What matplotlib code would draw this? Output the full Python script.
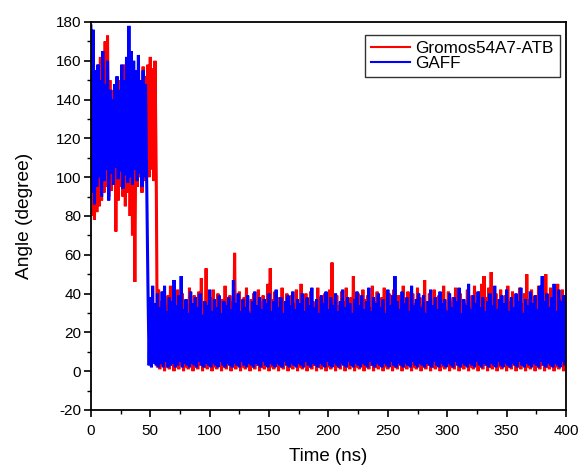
import numpy as np
import matplotlib
matplotlib.use("Agg")
import matplotlib.pyplot as plt
from matplotlib.ticker import MultipleLocator

plt.rcParams['font.family'] = ['Liberation Sans', 'DejaVu Sans']
plt.rcParams['axes.unicode_minus'] = False

# Time (ns), sampled every 1 ns
time_ns = np.arange(0, 401)

# GAFF angle (degree), t = 0..400 ns
gaff = [
    178, 92, 176, 86, 155, 95, 158, 100, 150, 90,
    165, 98, 148, 104, 160, 88, 145, 102, 140, 96,
    148, 105, 152, 99, 145, 103, 158, 94, 150, 101,
    162, 97, 178, 100, 165, 96, 160, 104, 155, 98,
    163, 102, 150, 95, 155, 100, 148, 98,
    45, 3, 38, 2, 44, 4, 35, 3, 40, 2,
    33, 4, 41, 2, 44, 5, 31, 2, 38, 3,
    36, 4, 47, 2, 34, 3, 39, 5, 49, 2,
    32, 4, 37, 3, 30, 2, 41, 4, 35, 3,
    38, 2, 33, 5, 40, 3, 29, 2, 36, 4,
    34, 3, 42, 2, 31, 4, 37, 3, 33, 2,
    39, 5, 30, 3, 36, 2, 34, 4, 38, 3,
    32, 2, 47, 4, 35, 3, 40, 2, 31, 5,
    37, 3, 33, 2, 39, 4, 30, 3, 36, 2,
    41, 4, 34, 3, 38, 2, 32, 5, 37, 3,
    35, 2, 40, 4, 31, 3, 36, 2, 42, 4,
    33, 3, 38, 2, 30, 5, 36, 3, 39, 2,
    34, 4, 41, 3, 32, 2, 37, 4, 35, 3,
    40, 2, 31, 5, 38, 3, 34, 2, 43, 4,
    33, 3, 37, 2, 30, 4, 39, 3, 35, 2,
    41, 5, 32, 3, 38, 2, 34, 4, 40, 3,
    31, 2, 36, 4, 42, 3, 33, 2, 38, 5,
    35, 3, 30, 2, 37, 4, 41, 3, 34, 2,
    39, 4, 32, 3, 36, 2, 43, 5, 31, 3,
    38, 2, 35, 4, 40, 3, 33, 2, 37, 4,
    30, 3, 42, 2, 34, 5, 39, 3, 49, 2,
    36, 4, 32, 3, 41, 2, 35, 4, 38, 3,
    31, 2, 44, 5, 34, 3, 37, 2, 40, 4,
    33, 3, 39, 2, 30, 4, 36, 3, 42, 2,
    34, 5, 38, 3, 32, 2, 41, 4, 35, 3,
    37, 2, 31, 4, 40, 3, 33, 2, 38, 5,
    36, 3, 43, 2, 30, 4, 37, 3, 34, 2,
    45, 4, 32, 3, 39, 2, 35, 5, 41, 3,
    33, 2, 38, 4, 31, 3, 36, 2, 40, 4,
    34, 3, 44, 2, 32, 5, 37, 3, 39, 2,
    35, 4, 42, 3, 31, 2, 38, 4, 33, 3,
    40, 2, 36, 5, 43, 3, 30, 2, 37, 4,
    34, 3, 41, 2, 35, 4, 39, 3, 32, 2,
    44, 5, 49, 3, 36, 2, 40, 4, 33, 3,
    38, 2, 45, 4, 31, 3, 42, 2, 36, 5,
    39, 3, 34,
]

# Gromos54A7-ATB angle (degree), t = 0..400 ns
gromos = [
    120, 80, 140, 78, 150, 82, 158, 85, 162, 88,
    160, 92, 170, 95, 173, 90, 150, 93, 145, 97,
    148, 72, 142, 88, 150, 95, 155, 90, 158, 85,
    152, 92, 160, 80, 148, 70, 135, 46, 140, 95,
    155, 100, 150, 92, 157, 98, 152, 105, 158, 100,
    162, 104, 156, 98, 160, 102,
    2, 42, 1, 36, 3, 41, 0, 34, 2, 39,
    1, 44, 3, 33, 0, 38, 2, 42, 1, 35,
    3, 40, 0, 32, 2, 37, 1, 43, 3, 34,
    0, 39, 2, 31, 1, 41, 3, 48, 0, 36,
    2, 53, 1, 33, 3, 38, 0, 42, 2, 35,
    1, 40, 3, 32, 0, 37, 2, 44, 1, 34,
    3, 39, 0, 36, 2, 61, 1, 33, 3, 41,
    0, 35, 2, 38, 1, 43, 3, 31, 0, 37,
    2, 40, 1, 34, 3, 42, 0, 36, 2, 39,
    1, 33, 3, 45, 0, 53, 2, 37, 1, 41,
    3, 34, 0, 38, 2, 43, 1, 32, 3, 40,
    0, 36, 2, 39, 1, 35, 3, 42, 0, 33,
    2, 45, 1, 37, 3, 40, 0, 34, 2, 41,
    1, 36, 3, 31, 0, 43, 2, 38, 1, 35,
    3, 40, 0, 33, 2, 42, 1, 56, 3, 37,
    0, 39, 2, 34, 1, 41, 3, 36, 0, 43,
    2, 32, 1, 38, 3, 49, 0, 35, 2, 40,
    1, 34, 3, 42, 0, 37, 2, 39, 1, 33,
    3, 44, 0, 36, 2, 41, 1, 35, 3, 38,
    0, 43, 2, 32, 1, 40, 3, 36, 0, 42,
    2, 34, 1, 39, 3, 37, 0, 44, 2, 33,
    1, 41, 3, 36, 0, 40, 2, 35, 1, 43,
    3, 38, 0, 34, 2, 47, 1, 36, 3, 40,
    0, 33, 2, 42, 1, 37, 3, 39, 0, 35,
    2, 44, 1, 32, 3, 41, 0, 36, 2, 38,
    1, 43, 3, 34, 0, 40, 2, 37, 1, 35,
    3, 42, 0, 33, 2, 39, 1, 44, 3, 36,
    0, 41, 2, 45, 1, 49, 3, 38, 0, 43,
    2, 51, 1, 35, 3, 40, 0, 37, 2, 42,
    1, 34, 3, 39, 0, 44, 2, 36, 1, 41,
    3, 33, 0, 38, 2, 43, 1, 35, 3, 40,
    0, 50, 2, 37, 1, 42, 3, 34, 0, 39,
    2, 44, 1, 36, 3, 41, 0, 50, 2, 38,
    1, 43, 3, 35, 0, 40, 2, 45, 1, 37,
    3, 42, 0, 39, 2,
]

series_labels = ["Gromos54A7-ATB", "GAFF"]
x_ticks = [0, 50, 100, 150, 200, 250, 300, 350, 400]
y_ticks = [-20, 0, 20, 40, 60, 80, 100, 120, 140, 160, 180]

fig = plt.figure(figsize=(5.79, 4.68), dpi=100)
ax = fig.add_axes([0.157, 0.124, 0.8205, 0.829])

ax.plot(time_ns, gromos, color='#ff0000', lw=2.2, label=series_labels[0],
        solid_joinstyle='miter')
ax.plot(time_ns, gaff, color='#0000ff', lw=2.2, label=series_labels[1],
        solid_joinstyle='miter')

ax.set_xlim(0, 400)
ax.set_ylim(-20, 180)
ax.set_xticks(x_ticks)
ax.set_yticks(y_ticks)
ax.xaxis.set_minor_locator(MultipleLocator(25))
ax.yaxis.set_minor_locator(MultipleLocator(10))
ax.tick_params(which='major', direction='out', length=5, width=1.2,
               labelsize=11, top=False, right=False)
ax.tick_params(axis='x', which='major', pad=5)
ax.tick_params(axis='y', which='major', pad=2)
ax.tick_params(which='minor', direction='out', length=3, width=1.0,
               top=False, right=False)
for s in ax.spines.values():
    s.set_linewidth(1.3)
    s.set_color('black')

ax.set_xlabel("Time (ns)", fontsize=13.5, labelpad=7)
ax.set_ylabel("Angle (degree)", fontsize=13.8, labelpad=16)

leg = ax.legend(loc='upper right', bbox_to_anchor=(0.987, 0.967), fontsize=12.3,
                frameon=True, fancybox=False, edgecolor='black',
                handlelength=2.3, handletextpad=0.3, borderpad=0.35,
                labelspacing=0.0, borderaxespad=0.0)
leg.get_frame().set_linewidth(1.0)
for line in leg.get_lines():
    line.set_linewidth(1.5)

fig.savefig("out.png", dpi=100)
